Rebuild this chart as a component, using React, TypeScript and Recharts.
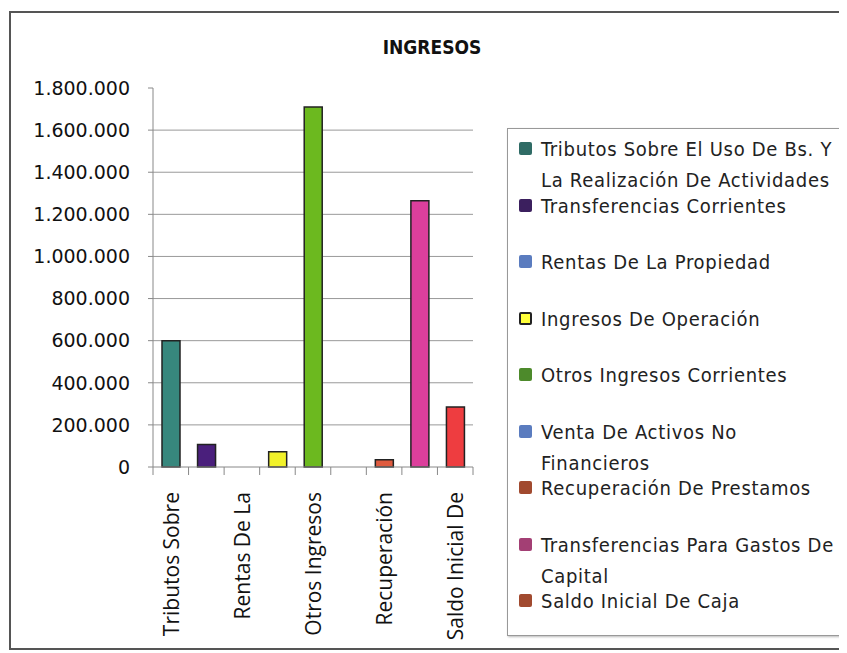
import { Bar, BarChart, CartesianGrid, Cell, Legend, XAxis, YAxis } from "recharts";

const categories = [
  "Tributos Sobre El Uso De Bs. Y La Realización De Actividades",
  "Transferencias Corrientes",
  "Rentas De La Propiedad",
  "Ingresos De Operación",
  "Otros Ingresos Corrientes",
  "Venta De Activos No Financieros",
  "Recuperación De Prestamos",
  "Transferencias Para Gastos De Capital",
  "Saldo Inicial De Caja",
];

// the axis only shows the first line of each wrapped name
const axisLabels = [
  "Tributos Sobre",
  "",
  "Rentas De La",
  "",
  "Otros Ingresos",
  "",
  "Recuperación",
  "",
  "Saldo Inicial De",
];

const legendLines = [
  ["Tributos Sobre El Uso De Bs. Y", "La Realización De Actividades"],
  ["Transferencias Corrientes"],
  ["Rentas De La Propiedad"],
  ["Ingresos De Operación"],
  ["Otros Ingresos Corrientes"],
  ["Venta De Activos No", "Financieros"],
  ["Recuperación De Prestamos"],
  ["Transferencias Para Gastos De", "Capital"],
  ["Saldo Inicial De Caja"],
];

const values = [600000, 107000, 0, 72000, 1710000, 0, 34000, 1265000, 285000];

const yTicks = [0, 200000, 400000, 600000, 800000, 1000000, 1200000, 1400000, 1600000, 1800000];

const barColors = [
  "#37877d",
  "#4a1f7c",
  "#5b7cbf",
  "#f2f22a",
  "#6cb91f",
  "#5b7cbf",
  "#df5b3f",
  "#dc3f9c",
  "#ee3d40",
];

const legendColors = [
  "#2f6b65",
  "#3b1f5e",
  "#5b7cbf",
  "#ffff3a",
  "#4d8a2b",
  "#5b7cbf",
  "#a14a2f",
  "#a33f74",
  "#a14a2f",
];

const data = categories.map((name, i) => ({ name, value: values[i], label: axisLabels[i] }));

const fmt = (v: number) => String(v).replace(/\B(?=(\d{3})+(?!\d))/g, ".");

function CategoryTick(props: any) {
  const { x, y, index, payload } = props;
  const half = payload?.offset ?? 17.8;
  const axisY = y - 8;
  const label = axisLabels[index];
  return (
    <g>
      <line x1={x - half} x2={x - half} y1={axisY} y2={axisY + 8} stroke="#888" />
      {index === categories.length - 1 && (
        <line x1={x + half} x2={x + half} y1={axisY} y2={axisY + 8} stroke="#888" />
      )}
      {label && (
        <text
          x={x}
          y={y + 17}
          transform={`rotate(-90, ${x}, ${y + 17})`}
          textAnchor="end"
          dominantBaseline="central"
          fontFamily="'Open Sans', sans-serif"
          fontSize={21}
          fill="#111"
        >
          {label}
        </text>
      )}
    </g>
  );
}

function LegendBox() {
  return (
    <div
      style={{
        position: "absolute",
        left: 499,
        top: 120,
        width: 360,
        height: 508,
        border: "1px solid #999",
        boxShadow: "1px 1px 2px #bbb",
        background: "#fff",
        boxSizing: "border-box",
        paddingTop: 5,
        fontFamily: "'DejaVu Sans Condensed', 'DejaVu Sans', sans-serif",
        fontSize: 20,
        letterSpacing: 0.7,
        color: "#222",
      }}
    >
      {legendLines.map((lines, i) => (
        <div key={i} style={{ position: "relative", height: 56.5 }}>
          <span
            style={{
              position: "absolute",
              left: 11,
              top: 8,
              width: 13,
              height: 13,
              background: legendColors[i],
              border: i === 3 ? "2px solid #222" : "none",
              boxSizing: "border-box",
              borderRadius: 2,
            }}
          />
          {lines.map((t, j) => (
            <div
              key={j}
              style={{ position: "absolute", left: 33, top: j * 31, lineHeight: "30px", whiteSpace: "nowrap" }}
            >
              {t}
            </div>
          ))}
        </div>
      ))}
    </div>
  );
}

export default function App() {
  return (
    <div style={{ position: "relative", width: 839, height: 645, overflow: "hidden" }}>
      <div
        style={{
          position: "absolute",
          left: 1,
          top: 3,
          width: 860,
          height: 639,
          border: "2px solid #555",
          boxSizing: "border-box",
        }}
      />
      <div
        style={{
          position: "absolute",
          left: 374,
          top: 28,
          width: 100,
          textAlign: "center",
          fontFamily: "'DejaVu Sans Condensed', 'DejaVu Sans', sans-serif",
          fontWeight: "bold",
          fontSize: 19,
          color: "#111",
        }}
      >
        INGRESOS
      </div>
      <div style={{ position: "absolute", left: 0, top: 0 }}>
        <BarChart
          width={839}
          height={640}
          data={data}
          margin={{ top: 80, right: 374, left: 0, bottom: 11 }}
          barSize={18}
        >
          <CartesianGrid
            vertical={false}
            stroke="#999"
            horizontalValues={yTicks.slice(1, -1)}
          />
          <XAxis
            dataKey="name"
            interval={0}
            height={170}
            tickSize={8}
            tickMargin={0}
            tickLine={false}
            axisLine={{ stroke: "#888" }}
            tick={<CategoryTick />}
          />
          <YAxis
            width={145}
            domain={[0, 1800000]}
            ticks={yTicks}
            interval={0}
            tickFormatter={fmt}
            axisLine={{ stroke: "#888" }}
            tickLine={{ stroke: "#888" }}
            tickSize={5}
            tickMargin={18}
            tick={{ fill: "#111", fontSize: 19, fontFamily: "'DejaVu Sans', sans-serif" }}
          />
          <Legend content={() => <LegendBox />} wrapperStyle={{ position: "absolute", left: 0, top: 0 }} />
          <Bar dataKey="value" stroke="#222" strokeWidth={1.5} isAnimationActive={false}>
            {data.map((d, i) => (
              <Cell key={d.name} fill={barColors[i]} />
            ))}
          </Bar>
        </BarChart>
      </div>
    </div>
  );
}
